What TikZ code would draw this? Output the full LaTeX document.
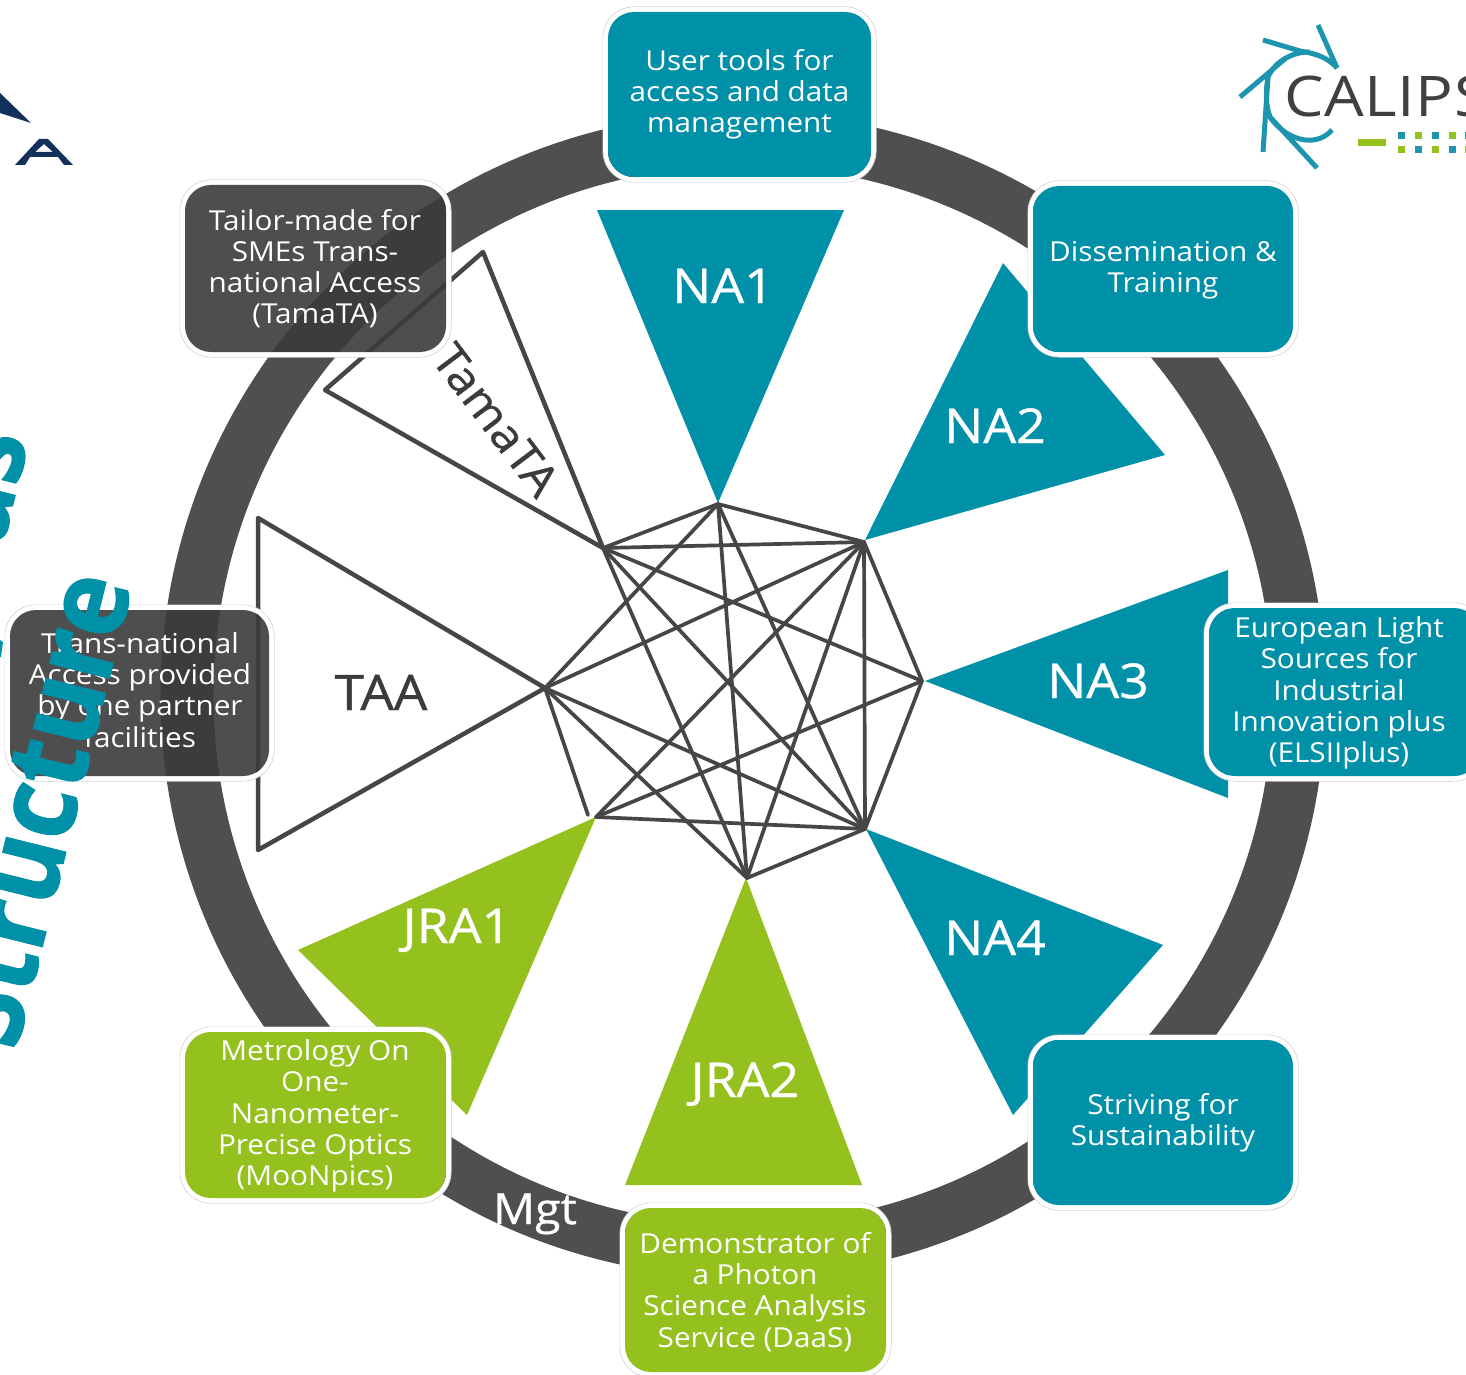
\documentclass[tikz,border=0pt]{standalone}
\usepackage{fontspec}
\setmainfont{Open Sans}[FakeStretch=1.08]
\newfontfamily\bigfont{Open Sans}[FakeStretch=.91,BoldFeatures={FakeBold=1.2}]
\newfontfamily\heavyfont{Open Sans}[FakeStretch=1.08,FakeBold=.8]
\newfontfamily\logofont{Open Sans}[FakeStretch=1.12,LetterSpace=1]
\definecolor{tealc}{HTML}{0090A8}
\definecolor{greenc}{HTML}{95C11F}
\definecolor{ringc}{HTML}{4F4F4F}
\definecolor{linec}{HTML}{464646}
\definecolor{darkc}{HTML}{3B3B3B}
\definecolor{logoteal}{HTML}{1D95AE}
\definecolor{navyc}{HTML}{12305A}
\tikzset{
  boxtext/.style={inner sep=0pt,text=white,align=center,font=\fontsize{27.5}{31.2}\selectfont},
  trilabel/.style={font=\heavyfont\fontsize{48}{50}\selectfont,text=white,inner sep=0pt,anchor=base},
  dlabel/.style={font=\heavyfont\fontsize{49}{50}\selectfont,text=darkc,inner sep=0pt,anchor=base},
  net/.style={draw=linec,line width=3.7pt,line cap=round},
  outl/.style={draw=linec,line width=4.5pt,fill=white,line join=round},
  logospoke/.style={draw=logoteal,line width=5pt}
}
\newcommand{\dbox}[6]{%
  \draw[gray!35,line width=1pt,rounded corners=31pt] (#2-5,#3-5) rectangle (#4+5,#5+5);
  \draw[white,line width=4.6pt,rounded corners=28.5pt] (#2-2.5,#3-2.5) rectangle (#4+2.5,#5+2.5);
  \fill[#6,rounded corners=26pt] (#2,#3) rectangle (#4,#5);
  \coordinate (#1) at ({(#2+#4)/2},{(#3+#5)/2});
}
\begin{document}
\begin{tikzpicture}[x=1pt,y=-1pt]
\useasboundingbox (0,0) rectangle (1466,1375);
\clip (0,0) rectangle (1466,1375);
\fill[white] (0,0) rectangle (1466,1375);
% ring
\coordinate (ringcentre) at (743,695);
\draw[ringc,line width=53pt] (ringcentre) circle[radius=556pt];
% triangles
\coordinate (A) at (718,504);
\coordinate (B) at (864,542);
\coordinate (C) at (922,681);
\coordinate (D) at (865,829);
\coordinate (E) at (747,878);
\coordinate (F) at (596,817);
\coordinate (G) at (545,688);
\coordinate (H) at (603,548);
\coordinate (Fs) at (588,815);
\fill[tealc] (718,503) -- (597,210) -- (844,210) -- cycle;
\fill[tealc] (865,540) -- (1003,263) -- (1165,455) -- cycle;
\fill[tealc] (925,681) -- (1228,570) -- (1228,798) -- cycle;
\fill[tealc] (866,829) -- (1163,945) -- (1013,1115) -- cycle;
\fill[greenc] (746,878) -- (625,1185) -- (862,1185) -- cycle;
\fill[greenc] (596,817) -- (298,950) -- (467,1115) -- cycle;
\draw[outl] (G) -- (258,518) -- (258,850) -- cycle;
\draw[outl] (H) -- (483,252) -- (325,390) -- cycle;
% network
\foreach \a/\b in {H/A,A/B,B/C,C/D,D/E,A/G,A/E,A/D,B/H,B/G,B/F,B/E,B/D,C/H,C/F,D/H,D/G,D/F,E/H,E/G}
  \draw[net] (\a) -- (\b);
\draw[net] (G) -- (Fs);
% triangle labels
\node[trilabel] (na1) at (723,303) {NA1};
\node[trilabel] (na2) at (995,443) {NA2};
\node[trilabel] (na3) at (1098,698) {NA3};
\node[trilabel] (na4) at (995,955) {NA4};
\node[trilabel] (jra1) at (457,943) {JRA1};
\node[trilabel] (jra2) at (745,1097) {JRA2};
\node[dlabel] (taa) at (381,710) {TAA};
\node[dlabel,anchor=center,rotate=-53,font=\heavyfont\fontsize{45}{46}\selectfont] (tama) at (496,420) {TamaTA};
\node[trilabel,font=\heavyfont\fontsize{43}{44}\selectfont] (mgt) at (535,1224) {Mgt};
% boxes
\dbox{b1}{608}{12}{871}{177}{tealc}
\node[boxtext] (t1) at (739.5,94) {User tools for\\access and data\\management};
\dbox{b2}{1033}{186}{1293}{352}{tealc}
\node[boxtext] (t2) at (1163,270) {Dissemination \&\\Training};
\dbox{b3}{1209}{608}{1480}{776}{tealc}
\node[boxtext] (t3) at (1339,693) {European Light\\Sources for\\Industrial\\Innovation plus\\(ELSIIplus)};
\dbox{b4}{1033}{1040}{1293}{1205}{tealc}
\node[boxtext] (t4) at (b4) {Striving for\\Sustainability};
\dbox{b5}{625}{1208}{886}{1372}{greenc}
\node[boxtext] (t5) at (755,1292) {Demonstrator of\\a Photon\\Science Analysis\\Service (DaaS)};
\dbox{b6}{185}{1032}{446}{1198}{greenc}
\node[boxtext] (t6) at (315,1116) {Metrology On\\One-\\Nanometer-\\Precise Optics\\(MooNpics)};
\dbox{b7}{10}{610}{269}{776}{darkc,fill opacity=.9}
\node[boxtext] (t7) at (140,690) {Trans-national\\Access provided\\by one partner\\facilities};
\dbox{b8}{185}{185}{446}{352}{darkc,fill opacity=.9}
\node[boxtext] (t8) at (315,268.5) {Tailor-made for\\SMEs Trans-\\national Access\\(TamaTA)};
% big text
\node[rotate=76,anchor=base west,inner sep=0pt,text=tealc,font=\bigfont\bfseries\fontsize{112}{112}\selectfont] (big) at (16,1052) {Structure};
\node[rotate=76,anchor=base west,inner sep=0pt,text=tealc,font=\bigfont\bfseries\fontsize{112}{112}\selectfont] (big2) at (2,548) {as};
\fill[tealc] (0,640) -- (3,642) -- (1,657) -- (0,657) -- cycle;
% CALIPSO logo
\draw[logospoke] (1318,25) -- (1337,68);
\draw[logospoke] (1263,40) -- (1300,51) .. controls (1318,54) and (1328,58) .. (1337,68);
\draw[logospoke] (1240,97) -- (1286,58) .. controls (1295,53) and (1303,52) .. (1310,52);
\draw[logospoke] (1263,152) -- (1268,77) .. controls (1271,70) and (1278,62) .. (1286,58);
\draw[logospoke] (1317,168) -- (1270,117) .. controls (1265,104) and (1266,88) .. (1268,77);
\draw[logospoke] (1270,117) .. controls (1284,138) and (1314,150) .. (1332,130);
\node[anchor=base west,inner sep=0pt,text=black!75,font=\logofont\fontsize{56}{56}\selectfont] (calips) at (1284,117) {CALIPS};
\fill[greenc] (1358,139) rectangle (1386,146);
\foreach \x/\c/\d in {1398/logoteal/greenc,1415/greenc/logoteal,1432/logoteal/greenc,1449/greenc/logoteal,1465/logoteal/greenc}{
  \fill[\c] (\x,132) rectangle (\x+7,139);
  \fill[\d] (\x,146) rectangle (\x+7,153);
}
% left logo
\fill[navyc] (0,93) -- (31,123) -- (0,113) -- cycle;
\fill[navyc,even odd rule] (15,165) -- (25,165) -- (30,157) -- (58,157) -- (64,165) -- (73,165) -- (48,139) -- (39,139) -- cycle
  (35,152) -- (44,144) -- (53,152) -- cycle;
\end{tikzpicture}
\end{document}
